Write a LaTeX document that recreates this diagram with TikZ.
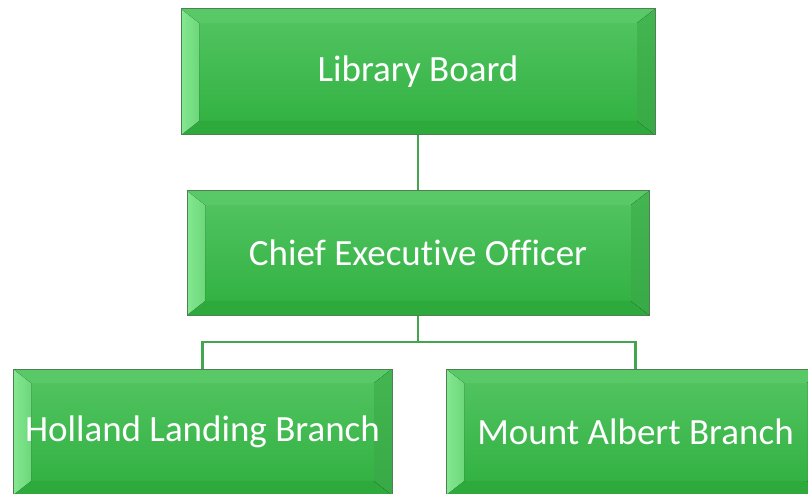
\documentclass[tikz,border=0pt]{standalone}
\usepackage{fontspec}
\setmainfont{Carlito}[Ligatures=NoCommon]
\usetikzlibrary{calc}
\definecolor{boxtop}{HTML}{54C563}
\definecolor{boxbot}{HTML}{2FB03F}
\definecolor{bevlight}{HTML}{8CEE98}
\definecolor{bevdark}{HTML}{38AA45}
\definecolor{bevtop}{HTML}{59C867}
\definecolor{bevbot}{HTML}{2EAA3C}
\definecolor{boxedge}{HTML}{4F7F52}
\definecolor{linkcol}{HTML}{43A64F}

\tikzset{
  orgbox/.style={rectangle,inner sep=0pt,draw=boxedge,line width=1pt,
    top color=boxtop,bottom color=boxbot,text=white,font=\fontsize{37}{40}\selectfont,
    path picture={
      \coordinate (nw) at (path picture bounding box.north west);
      \coordinate (ne) at (path picture bounding box.north east);
      \coordinate (sw) at (path picture bounding box.south west);
      \coordinate (se) at (path picture bounding box.south east);
      \fill[bevtop] (nw) -- (ne) -- ($(ne)+(-18,-14)$) -- ($(nw)+(18,-14)$) -- cycle;
      \fill[bevbot] (sw) -- (se) -- ($(se)+(-18,14)$) -- ($(sw)+(18,14)$) -- cycle;
      \fill[left color=bevlight!85!boxtop,right color=bevlight!45!boxtop] (nw) -- (sw) -- ($(sw)+(18,14)$) -- ($(nw)+(18,-14)$) -- cycle;
      \fill[top color=bevdark!60!boxtop,bottom color=bevdark] (ne) -- (se) -- ($(se)+(-18,14)$) -- ($(ne)+(-18,-14)$) -- cycle;
    }},
  link/.style={linkcol,line width=2.2pt}
}

\begin{document}
\begin{tikzpicture}[x=1pt,y=1pt]
  \useasboundingbox (0,0) rectangle (808,493);
  % boxes
  \node[orgbox,minimum width=474pt,minimum height=126pt] (board) at (418,421) {Library Board};
  \node[orgbox,minimum width=462pt,minimum height=124pt] (ceo) at (418,240) {Chief Executive Officer};
  \node[orgbox,minimum width=379pt,minimum height=126pt] (holland) at (202.5,61) {Holland Landing Branch};
  \node[orgbox,minimum width=379pt,minimum height=126pt] (albert) at (635.5,61) {Mount Albert Branch};
  \coordinate (split) at (418,151);
  % connectors
  \draw[link] (board) -- (ceo);
  \draw[link] (ceo) -- (split) -| (holland.north);
  \draw[link] (split) -| (albert.north);
\end{tikzpicture}
\end{document}
